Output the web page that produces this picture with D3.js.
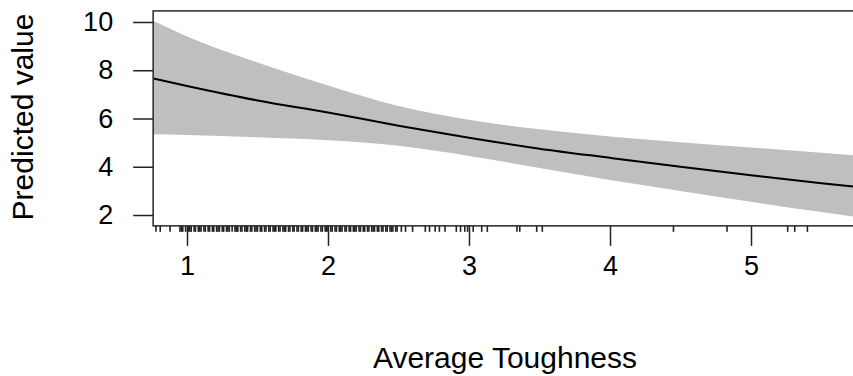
<!DOCTYPE html>
<html>
<meta charset="utf-8">
<style>
body { margin: 0; background: #fff; }
text { font-family: "Liberation Sans", Arial, sans-serif; fill: #000; }
.band { fill: #bfbfbf; stroke: none; }
.fit { fill: none; stroke: #000; stroke-width: 2px; }
.frame { fill: none; stroke: #333; stroke-width: 1.6px; }
.tick line, .rug line { stroke: #222; }
</style>
<body>
<script src="https://cdnjs.cloudflare.com/ajax/libs/d3/7.8.5/d3.min.js"></script>
<script>

// grid of Average Toughness values for the fitted curve
var toughness = [0.76, 1, 1.5, 2, 2.5, 3, 3.5, 4, 4.5, 5, 5.5, 5.9];
var predicted = [7.66, 7.35, 6.75, 6.25, 5.7, 5.2, 4.75, 4.37, 4.0, 3.65, 3.32, 3.08];
var upper     = [10.05, 9.4, 8.32, 7.37, 6.52, 5.95, 5.55, 5.25, 5.02, 4.8, 4.58, 4.4];
var lower     = [5.35, 5.32, 5.22, 5.1, 4.87, 4.45, 3.95, 3.45, 3.0, 2.55, 2.12, 1.8];

// observed toughness values (rug)
var rugValues = [0.78, 0.81, 0.88, 0.95, 0.96, 0.97, 0.99, 1.01, 1.02, 1.03, 1.05, 1.06,
  1.08, 1.09, 1.1, 1.12, 1.13, 1.15, 1.16, 1.18, 1.19, 1.21, 1.22, 1.23, 1.25, 1.26,
  1.28, 1.29, 1.3, 1.32, 1.34, 1.35, 1.36, 1.38, 1.39, 1.41, 1.42, 1.43, 1.45, 1.46,
  1.48, 1.49, 1.5, 1.52, 1.53, 1.55, 1.56, 1.58, 1.59, 1.61, 1.62, 1.63, 1.65, 1.66,
  1.68, 1.69, 1.7, 1.72, 1.73, 1.75, 1.76, 1.78, 1.79, 1.81, 1.82, 1.84, 1.85, 1.86,
  1.88, 1.89, 1.91, 1.92, 1.93, 1.95, 1.96, 1.98, 1.99, 2.0, 2.02, 2.03, 2.05, 2.06,
  2.08, 2.09, 2.1, 2.12, 2.13, 2.15, 2.16, 2.18, 2.19, 2.2, 2.22, 2.23, 2.25, 2.26,
  2.28, 2.29, 2.31, 2.32, 2.33, 2.35, 2.36, 2.38, 2.39, 2.41, 2.42, 2.44, 2.45, 2.46,
  2.48, 2.49, 2.52, 2.55, 2.6, 2.69, 2.72, 2.76, 2.79, 2.83, 2.91, 2.94, 2.97, 2.99,
  3.03, 3.09, 3.13, 3.34, 3.36, 3.48, 3.52, 4.45, 4.83, 5.26, 5.31, 5.4];

var xTicks = [1, 2, 3, 4, 5];
var yTicks = [2, 4, 6, 8, 10];

var svg = d3.select("body").append("svg").attr("width", 853).attr("height", 376);

var x = d3.scaleLinear().domain([1, 5]).range([187, 751]);
var y = d3.scaleLinear().domain([2, 10]).range([215, 22]);

var boxL = x(0.76), boxR = 880, boxT = y(10.46), boxB = y(1.55);

var pts = toughness.map(function(t, i){ return {t: t, m: predicted[i], hi: upper[i], lo: lower[i]}; });

svg.append("path").datum(pts).attr("class", "band")
  .attr("d", d3.area().curve(d3.curveMonotoneX)
    .x(d => x(d.t)).y0(d => y(d.lo)).y1(d => y(d.hi)));

svg.append("path").datum(pts).attr("class", "fit")
  .attr("d", d3.line().curve(d3.curveMonotoneX).x(d => x(d.t)).y(d => y(d.m)));

// rug
svg.append("g").attr("class", "rug").selectAll("line")
  .data(rugValues).enter().append("line")
  .attr("x1", d => x(d)).attr("x2", d => x(d))
  .attr("y1", boxB).attr("y2", boxB + 6)
  .attr("stroke-width", 1.6);

svg.append("rect").attr("class", "frame")
  .attr("x", boxL).attr("y", boxT)
  .attr("width", boxR - boxL).attr("height", boxB - boxT);

// axes
var xAxis = d3.axisBottom(x).tickValues(xTicks).tickSize(20).tickPadding(10).tickFormat(d3.format("d"));
var gx = svg.append("g").attr("transform", "translate(0," + boxB + ")").call(xAxis);
gx.select(".domain").remove();
gx.selectAll("text").style("font-size", "27px");
gx.selectAll(".tick line").attr("stroke-width", 1.5);

var yAxis = d3.axisLeft(y).tickValues(yTicks).tickSize(20).tickPadding(20);
var gy = svg.append("g").attr("transform", "translate(" + boxL + ",0)").call(yAxis);
gy.select(".domain").remove();
gy.selectAll("text").style("font-size", "27px");
gy.selectAll(".tick line").attr("stroke-width", 1.5);

svg.append("text").attr("x", 505).attr("y", 368)
  .attr("text-anchor", "middle").style("font-size", "30px")
  .text("Average Toughness");

svg.append("text").attr("transform", "translate(33,117) rotate(-90)")
  .attr("text-anchor", "middle").style("font-size", "30px")
  .text("Predicted value");
</script>
</body>
</html>
